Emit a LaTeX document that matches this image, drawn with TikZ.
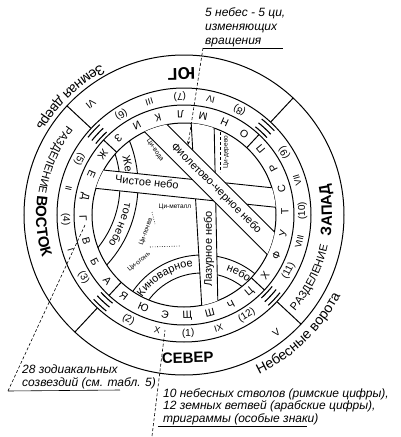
\documentclass[tikz,border=0pt]{standalone}
\usepackage{fontspec}
\setmainfont{Liberation Sans}
\usetikzlibrary{arrows.meta,decorations.text}
\newcommand\arctxt[5]{%
  \path[decorate,decoration={text along path,text align=center,text={|#4|#5}}]
    (#2:#1) arc[start angle=#2,end angle=#3,radius=#1];}
\begin{document}
\begin{tikzpicture}[x=1pt,y=1pt]
\tikzset{
  ring/.style={line width=1pt},
  band/.style={line width=0.9pt},
  letter/.style={inner sep=0pt,font=\fontsize{10.5}{10.5}\selectfont},
  numb/.style={inner sep=0pt,font=\fontsize{10}{10}\selectfont},
  roman/.style={inner sep=0pt,font=\fontsize{9}{9}\selectfont},
  bandtxt/.style={inner sep=0pt,font=\fontsize{11}{11}\selectfont},
  qi/.style={inner sep=0pt,font=\fontsize{6.5}{6.5}\selectfont},
  lbl/.style={inner sep=0pt,anchor=north west,align=left,font=\fontsize{12}{13.5}\selectfont\itshape},
  leader/.style={line width=0.6pt,dash pattern=on 3pt off 2pt},
  dotln/.style={line width=0.6pt,dash pattern=on 0.8pt off 1.6pt},
  dir/.style={inner sep=0pt,font=\fontsize{15}{15}\selectfont\bfseries},
}
\useasboundingbox (-184,-222) rectangle (216,215);
\def\dd{2}
% main circles
\draw[ring] (0,0) circle (160) (0,0) circle (127) (0,0) circle (110) (0,0) circle (92);
% dividers and trigrams
\foreach \a in {45,135,225,315}{
  \draw[ring] (\a+\dd:127) -- (\a+\dd:160);
  \draw[ring] (\a+\dd:92) -- (\a+\dd:110);
  \foreach \r in {113.5,118.5,123.5}
    \draw[line width=1.1pt] (\a+\dd-4:\r) arc[start angle=\a+\dd-4,end angle=\a+\dd+4,radius=\r];
}
% outer ring
\node[dir,font=\fontsize{17}{17}\selectfont\bfseries,rotate=181] (south) at (91:141) {ЮГ};
\node[dir,rotate=1.5] (north) at (-88.5:143) {СЕВЕР};
\arctxt{148}{165}{204}{\fontsize{15}{15}\selectfont\bfseries}{ВОСТОК}
\arctxt{148}{-18}{22}{\fontsize{15}{15}\selectfont\bfseries}{ЗАПАД}
\arctxt{147}{138}{176}{\fontsize{11}{11}\selectfont}{РАЗДЕЛЕНИЕ}
\arctxt{147}{-45}{-8}{\fontsize{11}{11}\selectfont}{РАЗДЕЛЕНИЕ}
\node[roman,font=\fontsize{10}{10}\selectfont,rotate=220] (VI) at (130:145) {VI};
\node[roman,font=\fontsize{10}{10}\selectfont,rotate=38] (V) at (-52:150) {V};
\arctxt{172}{110}{158}{\fontsize{14}{14}\selectfont}{Земная дверь}
\arctxt{176}{-72}{-20}{\fontsize{14}{14}\selectfont}{Небесные ворота}
% number ring
\foreach \k in {1,...,12}{
  \pgfmathsetmacro\ang{-90-30*(\k-1)+\dd}
  \node[numb,rotate=\ang+90] (b\k) at (\ang:118.5) {(\k)};
}
\foreach \ang/\t [count=\i] in {195/I,165/II,105/III,75/IV,15/VII,-15/VIII,-75/IX,-105/X}{
  \node[roman,rotate=\ang+\dd+90] (s\i) at (\ang+\dd:118.5) {\t};
}
% letter ring
\foreach \L [count=\i from 0] in {Ж,Е,Д,Г,В,Б,А,Я,Ю,Э,Щ,Ш,Ч,Ц,Х,Ф,У,Т,С,Р,П,О,Н,М,Л,К,И,З}{
  \pgfmathsetmacro\ang{141.43+12.857*\i+\dd}
  \node[letter,rotate=\ang+90] (L\i) at (\ang:101) {\L};
}
% inner bands
\begin{scope}
\clip (0,0) circle (92);
% cinnabar arc
\begin{scope}[shift={(18,-124)}]
  \draw[band] (0,0) circle (66) (0,0) circle (84);
  \arctxt{73}{152}{90}{\fontsize{11}{11}\selectfont}{Киноварное}
  \arctxt{73}{72}{50}{\fontsize{11}{11}\selectfont}{небо}
\end{scope}
% yellow arc
\begin{scope}[shift={(-164,30)}]
  \draw[band] (0,0) circle (100) (0,0) circle (118);
  \arctxt{106}{16}{6}{\fontsize{11}{11}\selectfont}{Же}
  \arctxt{106}{-3}{-40}{\fontsize{11}{11}\selectfont}{тое небо}
\end{scope}
% azure chord
\fill[white] (7,95) -- (18,-95) -- (34,-95) -- (30,95) -- cycle;
\draw[band] (7,95) -- (18,-95) (30,95) -- (34,-95);
\node[bandtxt,rotate=90] (lazur) at (25,-34) {Лазурное небо};
% pure chord
\begin{scope}[shift={(-34,30.5)},rotate=-6]
  \fill[white] (-100,-9.5) rectangle (250,9.5);
  \draw[band] (-100,-9.5) -- (250,-9.5) (-100,9.5) -- (250,9.5);
\end{scope}
\node[bandtxt,rotate=-6] (chist) at (-37,33) {Чистое небо};
% violet-black chord
\begin{scope}[rotate=-45]
  \fill[white] (-120,31) rectangle (120,52);
  \draw[band] (-120,31) -- (120,31) (-120,52) -- (120,52);
  \coordinate (fc) at (4,41.5);
\end{scope}
\node[bandtxt,rotate=-45] (fiol) at (fc) {Фиолетово-черное небо};
% qi labels
\node[qi] (qm) at (-9,8.5) {Ци-металл};
\node[qi,rotate=70] (qp) at (-38,-17) {Ци-почва};
\node[qi,rotate=40] (qo) at (-45,-47) {Ци-огонь};
\node[qi,rotate=90] (qd) at (42,63) {Ци-дерево};
\node[qi,rotate=-55] (qv) at (-29,65) {Ци-вода};
\coordinate (d1a) at (-32,3); \coordinate (d1b) at (-29,-9);
\draw[dotln] (d1a) -- (d1b);
\coordinate (d2a) at (-34,-32); \coordinate (d2b) at (-4,-31);
\draw[dotln] (d2a) -- (d2b);
\coordinate (d3a) at (36,88); \coordinate (d3b) at (36,43);
\draw[leader] (d3a) -- (d3b);
\end{scope}
% labels
\node[lbl,font=\fontsize{12}{14}\selectfont\itshape] (lab5) at (21,208) {5 небес - 5 ци,\\изменяющих\\вращения};
\node[lbl,font=\fontsize{12}{12.5}\selectfont\itshape] (lab28) at (-162,-150) {28 зодиакальных\\созвездий (см. табл. 5)};
\node[lbl,font=\fontsize{12}{12.8}\selectfont\itshape] (lab10) at (-21,-173) {10 небесных стволов (римские цифры),\\12 земных ветвей (арабские цифры),\\триграммы (особые знаки)};
\coordinate (u5a) at (19,167); \coordinate (u5b) at (99,167);
\coordinate (t5) at (4,70);
\draw[line width=0.6pt] (u5a) -- (u5b);
\draw[leader,-{Stealth[length=4pt]}] (u5a) -- (t5);
\coordinate (u28a) at (-176,-176); \coordinate (u28b) at (-64,-175); \coordinate (t28) at (-99,-10);
\draw[line width=0.6pt] (u28a) -- (u28b);
\draw[leader] (u28a) -- (t28);
\coordinate (u10a) at (-26,-211.5); \coordinate (u10b) at (123,-211.5);
\coordinate (b10) at (-32,-221); \coordinate (t10) at (-19,-115);
\draw[line width=0.6pt] (u10a) -- (u10b);
\draw[leader] (b10) -- (t10);
\end{tikzpicture}
\end{document}
